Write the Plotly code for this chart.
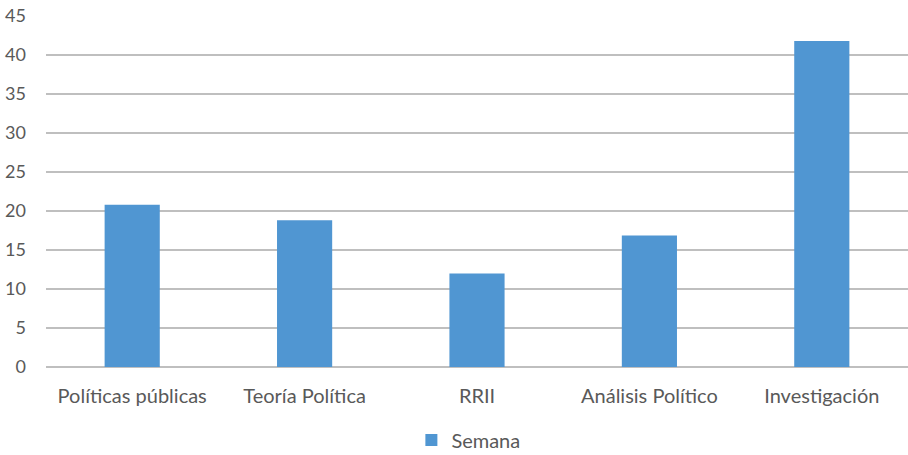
import plotly.graph_objects as go

categories = ["Políticas públicas", "Teoría Política", "RRII", "Análisis Político", "Investigación"]
semana = [20.8, 18.8, 12, 16.85, 41.8]
y_ticks = [0, 5, 10, 15, 20, 25, 30, 35, 40, 45]

FONT = "Lato, Open Sans, sans-serif"
GRAY = "#595959"

fig = go.Figure()
fig.add_trace(go.Bar(x=categories, y=semana, name="Semana", marker_color="#5096d2",
                     marker_line_width=0))

fig.update_layout(
    width=908, height=455,
    margin=dict(l=46, r=0, t=16, b=88, autoexpand=False),
    paper_bgcolor="white", plot_bgcolor="white",
    bargap=0.68,
    font=dict(family=FONT, size=20, color=GRAY),
    showlegend=True,
    legend=dict(orientation="h", x=0.49, xanchor="center", y=-0.208, yanchor="middle",
                font=dict(family=FONT, size=20, color=GRAY), itemwidth=30),
    xaxis=dict(showgrid=False, showline=False, ticks="", ticklabelstandoff=15,
               automargin=False, tickfont=dict(family=FONT, size=20, color=GRAY)),
    yaxis=dict(range=[0, 45], tickvals=y_ticks, showgrid=True, gridcolor="#bfbfbf",
               gridwidth=1.5, zeroline=True, zerolinecolor="#bfbfbf", zerolinewidth=1.5,
               showline=False, ticks="", ticklabelstandoff=19, automargin=False,
               tickfont=dict(family=FONT, size=18, color=GRAY)),
)

fig.write_html("out.html", config={"displayModeBar": False},
               post_script="document.body.style.margin='0';")
